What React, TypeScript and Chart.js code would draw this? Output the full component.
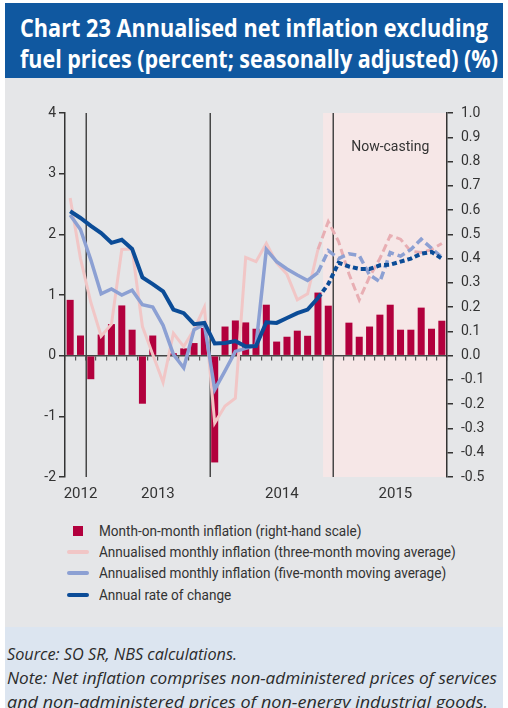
import React, { useEffect, useRef } from 'react';
import { Chart, registerables } from 'chart.js';

Chart.register(...registerables);

// ---------- data ----------
const months = [
  'Apr 2012', 'May 2012', 'Jun 2012', 'Jul 2012', 'Aug 2012', 'Sep 2012', 'Oct 2012', 'Nov 2012', 'Dec 2012',
  'Jan 2013', 'Feb 2013', 'Mar 2013', 'Apr 2013', 'May 2013', 'Jun 2013', 'Jul 2013', 'Aug 2013', 'Sep 2013',
  'Oct 2013', 'Nov 2013', 'Dec 2013', 'Jan 2014', 'Feb 2014', 'Mar 2014', 'Apr 2014', 'May 2014', 'Jun 2014',
  'Jul 2014', 'Aug 2014', 'Sep 2014', 'Oct 2014', 'Nov 2014', 'Dec 2014', 'Jan 2015', 'Feb 2015', 'Mar 2015',
  'Apr 2015',
];

// month-on-month inflation (right-hand scale)
const momInflation = [
  0.23, 0.083, -0.097, 0.087, 0.13, 0.207, 0.107, -0.198, 0.083,
  0.0, 0.01, 0.03, 0.052, 0.114, -0.44, 0.12, 0.145, 0.137,
  0.111, 0.21, 0.058, 0.078, 0.103, 0.082, 0.26, 0.206, 0.003,
  0.136, 0.078, 0.12, 0.169, 0.21, 0.107, 0.107, 0.198, 0.111,
  0.144,
];

// annualised monthly inflation, three-month moving average
const threeMonthAvg = [
  2.6, 1.6, 0.88, 0.32, 0.52, 1.75, 1.76, 0.48, 0.02,
  -0.44, 0.37, 0.15, 0.43, 0.8, -1.11, -0.83, -0.7, 1.62,
  1.55, 1.85, 1.53, 1.34, 0.92, 1.02, 1.75, 2.21, 1.88,
  1.35, 0.92, 1.3, 1.6, 1.98, 1.92, 1.72, 1.7, 1.75,
  1.85,
];

// annualised monthly inflation, five-month moving average
const fiveMonthAvg = [
  2.32, 2.08, 1.58, 1.02, 1.1, 1.0, 1.08, 0.84, 0.8,
  0.5, 0.02, -0.2, 0.43, 0.52, -0.56, -0.25, 0.07, 0.12,
  0.17, 1.75, 1.55, 1.43, 1.33, 1.24, 1.37, 1.73, 1.6,
  1.68, 1.65, 1.33, 1.22, 1.7, 1.64, 1.75, 1.92, 1.77,
  1.62,
];

// annual rate of change
const annualRate = [
  2.38, 2.27, 2.14, 2.02, 1.86, 1.91, 1.76, 1.29, 1.18,
  1.06, 0.76, 0.7, 0.52, 0.54, 0.2, 0.21, 0.24, 0.15,
  0.16, 0.55, 0.54, 0.62, 0.7, 0.76, 0.95, 1.18, 1.53,
  1.47, 1.43, 1.43, 1.49, 1.5, 1.55, 1.6, 1.68, 1.71,
  1.6,
];

const seriesNames = [
  'Month-on-month inflation (right-hand scale)',
  'Annualised monthly inflation (three-month moving average)',
  'Annualised monthly inflation (five-month moving average)',
  'Annual rate of change',
];

const yearLabels = ['2012', '2013', '2014', '2015'];
const yearLabelSlots = [1.5, 9, 21, 32]; // in month-slot units along the axis
const dividerSlots = [2, 14, 26];
const nowcastFromSlot = 25;
const nowcastLabel = 'Now-casting';
const forecastFromIndex = 24;

const titleLines = [
  'Chart 23 Annualised net inflation excluding',
  'fuel prices (percent; seasonally adjusted) (%)',
];
const footerLines = [
  'Source: SO SR, NBS calculations.',
  'Note: Net inflation comprises non-administered prices of services',
  'and non-administered prices of non-energy industrial goods.',
];

// ---------- styles ----------
const SANS = 'Roboto, "Liberation Sans", sans-serif';
const C_BAR = '#B2003D';
const C_PINK = '#F1C6C6';
const C_PINK_DASH = '#E8AEB3';
const C_LBLUE = '#8CA0D3';
const C_DBLUE = '#0B4C97';
const C_NOWCAST = '#F6E7E7';
const C_TEXT = '#333333';

const fromForecast = (ctx: any) => ctx.p0DataIndex >= forecastFromIndex;

const backdropPlugin = {
  id: 'backdrop',
  beforeDraw(chart: any) {
    const { ctx, chartArea: ca, scales } = chart;
    const slots = scales.xYear;
    const x0 = slots.getPixelForValue(nowcastFromSlot);
    ctx.save();
    ctx.fillStyle = C_NOWCAST;
    ctx.fillRect(x0, ca.top, ca.right - x0, ca.bottom - ca.top);
    ctx.strokeStyle = '#474747';
    ctx.lineWidth = 1.5;
    dividerSlots.forEach((s) => {
      const x = Math.round(slots.getPixelForValue(s)) + 0.25;
      ctx.beginPath();
      ctx.moveTo(x, ca.top);
      ctx.lineTo(x, ca.bottom);
      ctx.stroke();
    });
    ctx.fillStyle = C_TEXT;
    ctx.font = `14px ${SANS}`;
    ctx.textAlign = 'center';
    ctx.textBaseline = 'middle';
    ctx.fillText(nowcastLabel, scales.x.getPixelForValue(31), scales.y.getPixelForValue(3.43));
    ctx.restore();
  },
};

function InflationChart() {
  const ref = useRef<HTMLCanvasElement | null>(null);
  useEffect(() => {
    if (!ref.current) return;
    const chart = new Chart(ref.current, {
      type: 'bar',
      data: {
        labels: months,
        datasets: [
          {
            type: 'bar',
            label: seriesNames[0],
            data: momInflation,
            yAxisID: 'y1',
            backgroundColor: C_BAR,
            barPercentage: 0.68,
            categoryPercentage: 1,
            order: 3,
          },
          {
            type: 'line',
            label: seriesNames[1],
            data: threeMonthAvg,
            yAxisID: 'y',
            borderColor: C_PINK,
            borderWidth: 3,
            pointRadius: 0,
            tension: 0,
            order: 2,
            segment: {
              borderDash: (c: any) => (fromForecast(c) ? [8, 4] : undefined),
              borderColor: (c: any) => (fromForecast(c) ? C_PINK_DASH : undefined),
            },
          },
          {
            type: 'line',
            label: seriesNames[2],
            data: fiveMonthAvg,
            yAxisID: 'y',
            borderColor: C_LBLUE,
            borderWidth: 3.5,
            pointRadius: 0,
            tension: 0,
            order: 1,
            segment: {
              borderDash: (c: any) => (fromForecast(c) ? [8, 4] : undefined),
            },
          },
          {
            type: 'line',
            label: seriesNames[3],
            data: annualRate,
            yAxisID: 'y',
            borderColor: C_DBLUE,
            borderWidth: 4,
            pointRadius: 0,
            tension: 0,
            order: 0,
            segment: {
              borderDash: (c: any) => (fromForecast(c) ? [5, 3] : undefined),
            },
          },
        ] as any,
      },
      options: {
        animation: false,
        responsive: false,
        events: [],
        layout: { padding: { top: 35, left: 0, right: 0, bottom: 0 } },
        plugins: { legend: { display: false }, tooltip: { enabled: false } },
        scales: {
          x: {
            type: 'category',
            position: { y: 0 } as any,
            offset: true,
            grid: { offset: true, drawOnChartArea: false, drawTicks: true, tickLength: 4, color: '#555', lineWidth: 1.2 },
            border: { display: true, color: '#444', width: 1.5 },
            ticks: { display: false },
            afterFit: (s: any) => { s.height = 0; },
          },
          xYear: {
            type: 'linear',
            position: 'bottom',
            min: 0,
            max: 37,
            offset: false,
            bounds: 'data',
            grid: { display: false, drawTicks: false, offset: false },
            border: { display: false },
            ticks: {
              autoSkip: false,
              maxRotation: 0,
              color: C_TEXT,
              padding: 8,
              font: { family: SANS, size: 15 },
              callback: (_v: any, i: number) => yearLabels[i],
            },
            afterBuildTicks: (s: any) => { s.ticks = yearLabelSlots.map((v) => ({ value: v })); },
            afterFit: (s: any) => { s.height = 28; },
          },
          y: {
            position: 'left',
            min: -2,
            max: 4,
            ticks: { stepSize: 1, color: C_TEXT, padding: 3, font: { family: SANS, size: 14 } },
            grid: { drawOnChartArea: false, drawTicks: true, tickLength: 6, color: '#333', lineWidth: 1.5 },
            border: { color: '#333', width: 1.5 },
            afterFit: (s: any) => { s.width = 60; },
          },
          y1: {
            position: 'right',
            min: -0.5,
            max: 1.0,
            ticks: {
              stepSize: 0.1,
              color: C_TEXT,
              padding: 8,
              font: { family: SANS, size: 14 },
              callback: (v: any) => (Math.round(Number(v) * 10) / 10 + 0).toFixed(1),
            },
            grid: { drawOnChartArea: false, drawTicks: true, tickLength: 6, color: '#333', lineWidth: 1.5 },
            border: { color: '#333', width: 1.5 },
            afterFit: (s: any) => { s.width = 56; },
          },
        },
      } as any,
      plugins: [backdropPlugin],
    });
    return () => chart.destroy();
  }, []);
  return <canvas ref={ref} width={498} height={427} style={{ width: 498, height: 427, display: 'block' }} />;
}

const legendMarkers = [
  { kind: 'square', color: C_BAR },
  { kind: 'line', color: C_PINK },
  { kind: 'line', color: C_LBLUE },
  { kind: 'line', color: C_DBLUE },
];

// target rendered widths of text lines (px), to mimic the condensed original typeface
const titleWidths = [468, 478];
const footerWidths = [230, 490, 481];

export default function App() {
  return (
    <div style={{ position: 'absolute', left: 0, top: 0, width: 508, height: 708, background: '#fff', overflow: 'hidden' }}>
      <svg style={{ position: 'absolute', left: 5, top: 3 }} width={498} height={75}>
        <rect x={0} y={0} width={498} height={75} fill="#1058A0" />
        {titleLines.map((t, i) => (
          <text
            key={t}
            x={15}
            y={34 + i * 31}
            fill="#fff"
            fontFamily='"Open Sans", sans-serif'
            fontWeight={700}
            fontSize={25}
            textLength={titleWidths[i]}
            lengthAdjust="spacingAndGlyphs"
          >
            {t}
          </text>
        ))}
      </svg>
      <div style={{ position: 'absolute', left: 5, top: 78, width: 498, height: 549, background: '#E5E6E8' }} />
      <div style={{ position: 'absolute', left: 5, top: 78, width: 498, height: 427 }}>
        <InflationChart />
      </div>
      <div style={{ position: 'absolute', left: 67, top: 520, fontFamily: SANS, fontSize: 15, color: C_TEXT }}>
        {seriesNames.map((name, i) => (
          <div key={name} style={{ display: 'flex', alignItems: 'center', height: 21.3, whiteSpace: 'nowrap' }}>
            <div style={{ width: 22, marginRight: 10, display: 'flex', justifyContent: 'center', flex: 'none' }}>
              {legendMarkers[i].kind === 'square' ? (
                <div style={{ width: 10, height: 10, background: legendMarkers[i].color }} />
              ) : (
                <div style={{ width: 22, height: 4, borderRadius: 2, background: legendMarkers[i].color }} />
              )}
            </div>
            <span style={{ display: 'inline-block', transform: 'scaleX(0.905)', transformOrigin: 'left center' }}>{name}</span>
          </div>
        ))}
      </div>
      <svg style={{ position: 'absolute', left: 5, top: 627 }} width={498} height={81}>
        <rect x={0} y={0} width={498} height={81} fill="#DCE5F0" />
        {footerLines.map((t, i) => (
          <text
            key={t}
            x={2}
            y={33 + i * 24}
            fill="#2b2b2b"
            fontFamily='"Open Sans", sans-serif'
            fontStyle="italic"
            fontSize={17}
            textLength={footerWidths[i]}
            lengthAdjust="spacingAndGlyphs"
          >
            {t}
          </text>
        ))}
      </svg>
    </div>
  );
}
